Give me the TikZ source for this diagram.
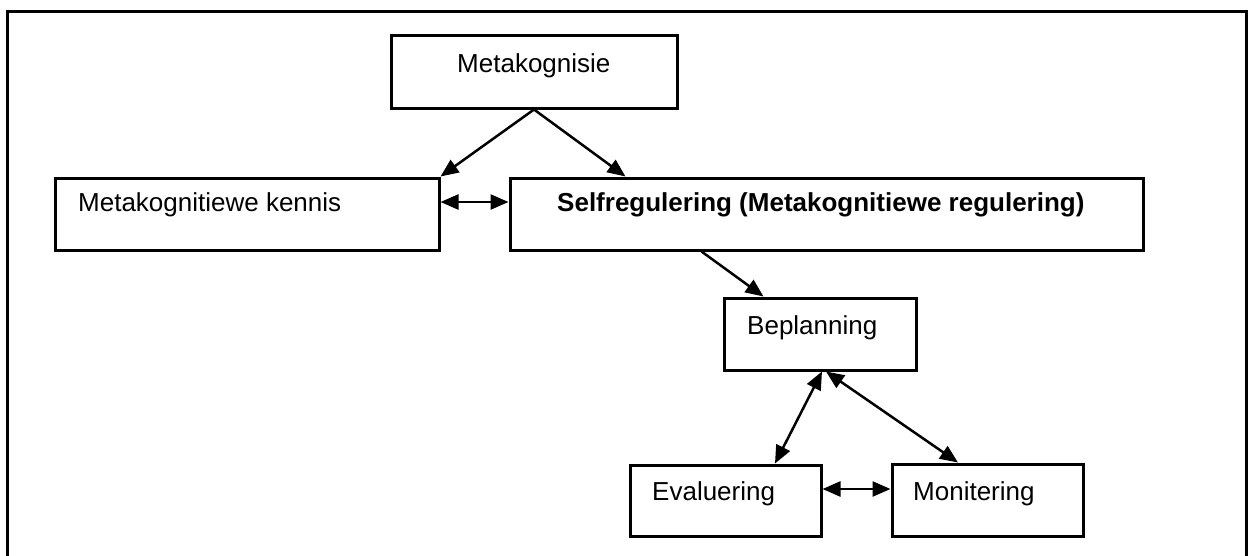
\documentclass[tikz,border=0pt]{standalone}
\usepackage{fontspec}
\setmainfont{Liberation Sans}
\usetikzlibrary{arrows.meta}
\begin{document}
\begin{tikzpicture}[x=1pt,y=-1pt,
  box/.style={draw, line width=3pt, rectangle, inner sep=0pt},
  lbl/.style={anchor=base west, inner sep=0pt, font=\fontsize{26}{30}\selectfont},
  conn/.style={line width=2.5pt, -{Triangle[length=18pt,width=15pt]}},
  biconn/.style={line width=2.5pt, {Triangle[length=18pt,width=15pt]}-{Triangle[length=18pt,width=15pt]}}]
  \useasboundingbox (0,0) rectangle (1251,555);
  % outer frame (open at the bottom edge of the page)
  \draw[line width=3pt] (7,570) -- (7,11) -- (1246,11) -- (1246,570);

  % boxes
  \node[box, minimum width=286pt, minimum height=73pt] (meta)   at (534,71.5)  {};
  \node[box, minimum width=384pt, minimum height=72pt] (kennis) at (247,214)   {};
  \node[box, minimum width=633pt, minimum height=72pt] (self)   at (826.5,214) {};
  \node[box, minimum width=192pt, minimum height=72pt] (plan)   at (820,334)   {};
  \node[box, minimum width=191pt, minimum height=71pt] (eval)   at (725.5,500.5) {};
  \node[box, minimum width=191pt, minimum height=72pt] (moni)   at (987.5,500) {};

  % labels
  \node[lbl] (tmeta)   at (457,72)  {Metakognisie};
  \node[lbl] (tkennis) at (78,211)  {Metakognitiewe kennis};
  \node[lbl] (tself)   at (557,211) {\bfseries Selfregulering (Metakognitiewe regulering)};
  \node[lbl] (tplan)   at (747,334) {Beplanning};
  \node[lbl] (teval)   at (652,500) {Evaluering};
  \node[lbl] (tmoni)   at (913,500) {Monitering};

  % connectors
  \draw[conn] (meta.south) -- (kennis.north east);
  \draw[conn] (meta.south) -- ([xshift=117pt]self.north west);
  \draw[biconn] ([yshift=12pt]kennis.east) -- ([yshift=12pt]self.west);
  \draw[conn] ([xshift=193pt]self.south west) -- ([xshift=41pt]plan.north west);
  \draw[biconn] ([xshift=2pt]plan.south) -- ([xshift=49.5pt]eval.north);
  \draw[biconn] ([xshift=6pt]plan.south) -- ([xshift=-29.5pt]moni.north);
  \draw[biconn] ([yshift=11.5pt]eval.east) -- ([yshift=11pt]moni.west);
\end{tikzpicture}
\end{document}
